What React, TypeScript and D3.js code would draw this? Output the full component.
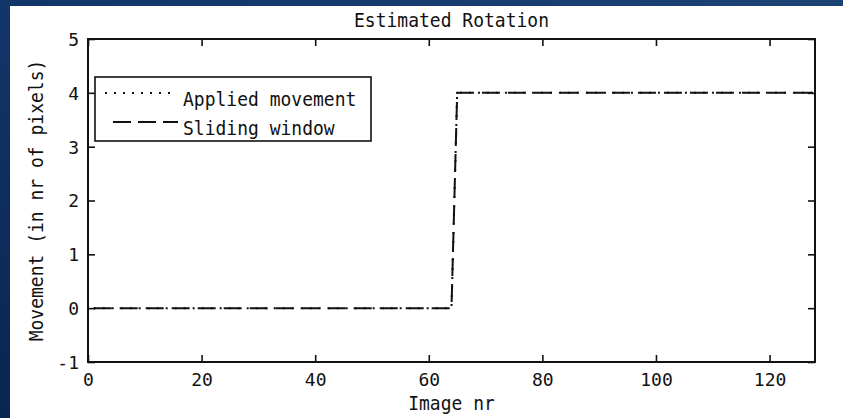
import React, { useRef, useEffect } from 'react';
import * as d3 from 'd3';

// tamanho da página e área do gráfico
const width = 843;
const height = 418;
const margin = { left: 88, top: 39, right: 28, bottom: 56 };

// dados (pontos de quebra do degrau)
const appliedX = [1, 64, 65, 128];
const appliedY = [0, 0, 4, 4];
const slidingX = [1, 64, 65, 128];
const slidingY = [0, 0, 4, 4];

const xTicks = [0, 20, 40, 60, 80, 100, 120];
const yTicks = [-1, 0, 1, 2, 3, 4, 5];
const legendLabels = ['Applied movement', 'Sliding window'];

const font = '"DejaVu Sans Mono", monospace';

export default function App() {
    const gRef = useRef<SVGGElement | null>(null);

    useEffect(() => {
        if (!gRef.current) return;
        const svg = d3.select(gRef.current);
        svg.selectAll('*').remove();

        const x = d3.scaleLinear().domain([0, 128]).range([margin.left, width - margin.right]);
        const y = d3.scaleLinear().domain([-1, 5]).range([height - margin.bottom, margin.top]);

        const fmt = (d: any) => String(d);

        const styleAxis = (g: any, labels: boolean) => {
            g.select('.domain').remove();
            g.selectAll('line').attr('stroke', '#111').attr('stroke-width', 1.6);
            g.selectAll('text')
                .attr('fill', '#111')
                .style('font-family', font)
                .style('font-size', '18px');
            if (!labels) g.selectAll('text').remove();
        };

        // eixo inferior
        const gx = svg.append('g')
            .attr('transform', `translate(0, ${y(-1)})`)
            .call(d3.axisBottom(x).tickValues(xTicks).tickSize(-7).tickPadding(10).tickFormat(fmt));
        styleAxis(gx, true);
        gx.selectAll('text').attr('dy', '0.71em').attr('y', 11);

        // eixo superior
        const gxt = svg.append('g')
            .attr('transform', `translate(0, ${y(5)})`)
            .call(d3.axisTop(x).tickValues(xTicks).tickSize(-7));
        styleAxis(gxt, false);

        // eixo esquerdo
        const gy = svg.append('g')
            .attr('transform', `translate(${x(0)}, 0)`)
            .call(d3.axisLeft(y).tickValues(yTicks).tickSize(-7).tickPadding(9).tickFormat(fmt));
        styleAxis(gy, true);
        gy.selectAll('text').attr('x', -9).attr('dy', '0.36em');

        // eixo direito
        const gyr = svg.append('g')
            .attr('transform', `translate(${x(128)}, 0)`)
            .call(d3.axisRight(y).tickValues(yTicks).tickSize(-7));
        styleAxis(gyr, false);

        // caixa
        svg.append('rect')
            .attr('x', x(0)).attr('y', y(5))
            .attr('width', x(128) - x(0)).attr('height', y(-1) - y(5))
            .attr('fill', 'none').attr('stroke', '#111').attr('stroke-width', 2);

        const applied = appliedX.map((v, i) => [x(v), y(appliedY[i])] as [number, number]);
        const sliding = slidingX.map((v, i) => [x(v), y(slidingY[i])] as [number, number]);
        const path = d3.line();

        svg.append('path')
            .attr('d', path(applied))
            .attr('fill', 'none').attr('stroke', '#111').attr('stroke-width', 2)
            .attr('stroke-dasharray', '2 7');
        svg.append('path')
            .attr('d', path(sliding))
            .attr('fill', 'none').attr('stroke', '#111').attr('stroke-width', 2)
            .attr('stroke-dasharray', '18 8');

        // legenda
        const lg = svg.append('g');
        lg.append('rect')
            .attr('x', 95).attr('y', 77).attr('width', 276).attr('height', 64)
            .attr('fill', '#fff').attr('stroke', '#111').attr('stroke-width', 1.6);
        lg.append('line')
            .attr('x1', 105).attr('x2', 175).attr('y1', 93).attr('y2', 93)
            .attr('stroke', '#111').attr('stroke-width', 2).attr('stroke-dasharray', '2 7');
        lg.append('line')
            .attr('x1', 113).attr('x2', 178).attr('y1', 122).attr('y2', 122)
            .attr('stroke', '#111').attr('stroke-width', 2).attr('stroke-dasharray', '18 7');

        // texto com leve alongamento vertical, como a fonte do MATLAB
        const stretched = (sel: any, tx: number, ty: number, rot = 0) =>
            sel.attr('transform', `translate(${tx}, ${ty}) rotate(${rot}) scale(1, 1.12)`)
                .style('font-family', font).style('font-size', '18px')
                .attr('fill', '#111');

        legendLabels.forEach((d, i) => {
            stretched(lg.append('text').text(d), 183, 106 + i * 29);
        });

        // título e rótulos
        stretched(svg.append('text').attr('text-anchor', 'middle').text('Estimated Rotation'),
            (x(0) + x(128)) / 2, 27);
        stretched(svg.append('text').attr('text-anchor', 'middle').text('Image nr'),
            (x(0) + x(128)) / 2, 410);
        stretched(svg.append('text').attr('text-anchor', 'middle').text('Movement (in nr of pixels)'),
            43, (y(-1) + y(5)) / 2, -90);
    }, []);

    return (
        <svg width={width} height={height}
            style={{ position: 'absolute', left: 0, top: 0, display: 'block', background: '#ffffff' }}>
            <defs>
                <linearGradient id="bgTop" x1="0" y1="0" x2="1" y2="0">
                    <stop offset="0%" stopColor="#12356a" />
                    <stop offset="100%" stopColor="#1d4274" />
                </linearGradient>
                <linearGradient id="bgLeft" x1="0" y1="0" x2="0" y2="1">
                    <stop offset="0%" stopColor="#12356a" />
                    <stop offset="100%" stopColor="#0a2650" />
                </linearGradient>
            </defs>
            {/* painel branco e as faixas azuis do slide (só no topo e à esquerda) */}
            <rect x={0} y={0} width={width} height={height} fill="#ffffff" />
            <rect x={0} y={0} width={width} height={6} fill="url(#bgTop)" />
            <rect x={0} y={0} width={10} height={height} fill="url(#bgLeft)" />
            <g ref={gRef} />
        </svg>
    );
}
